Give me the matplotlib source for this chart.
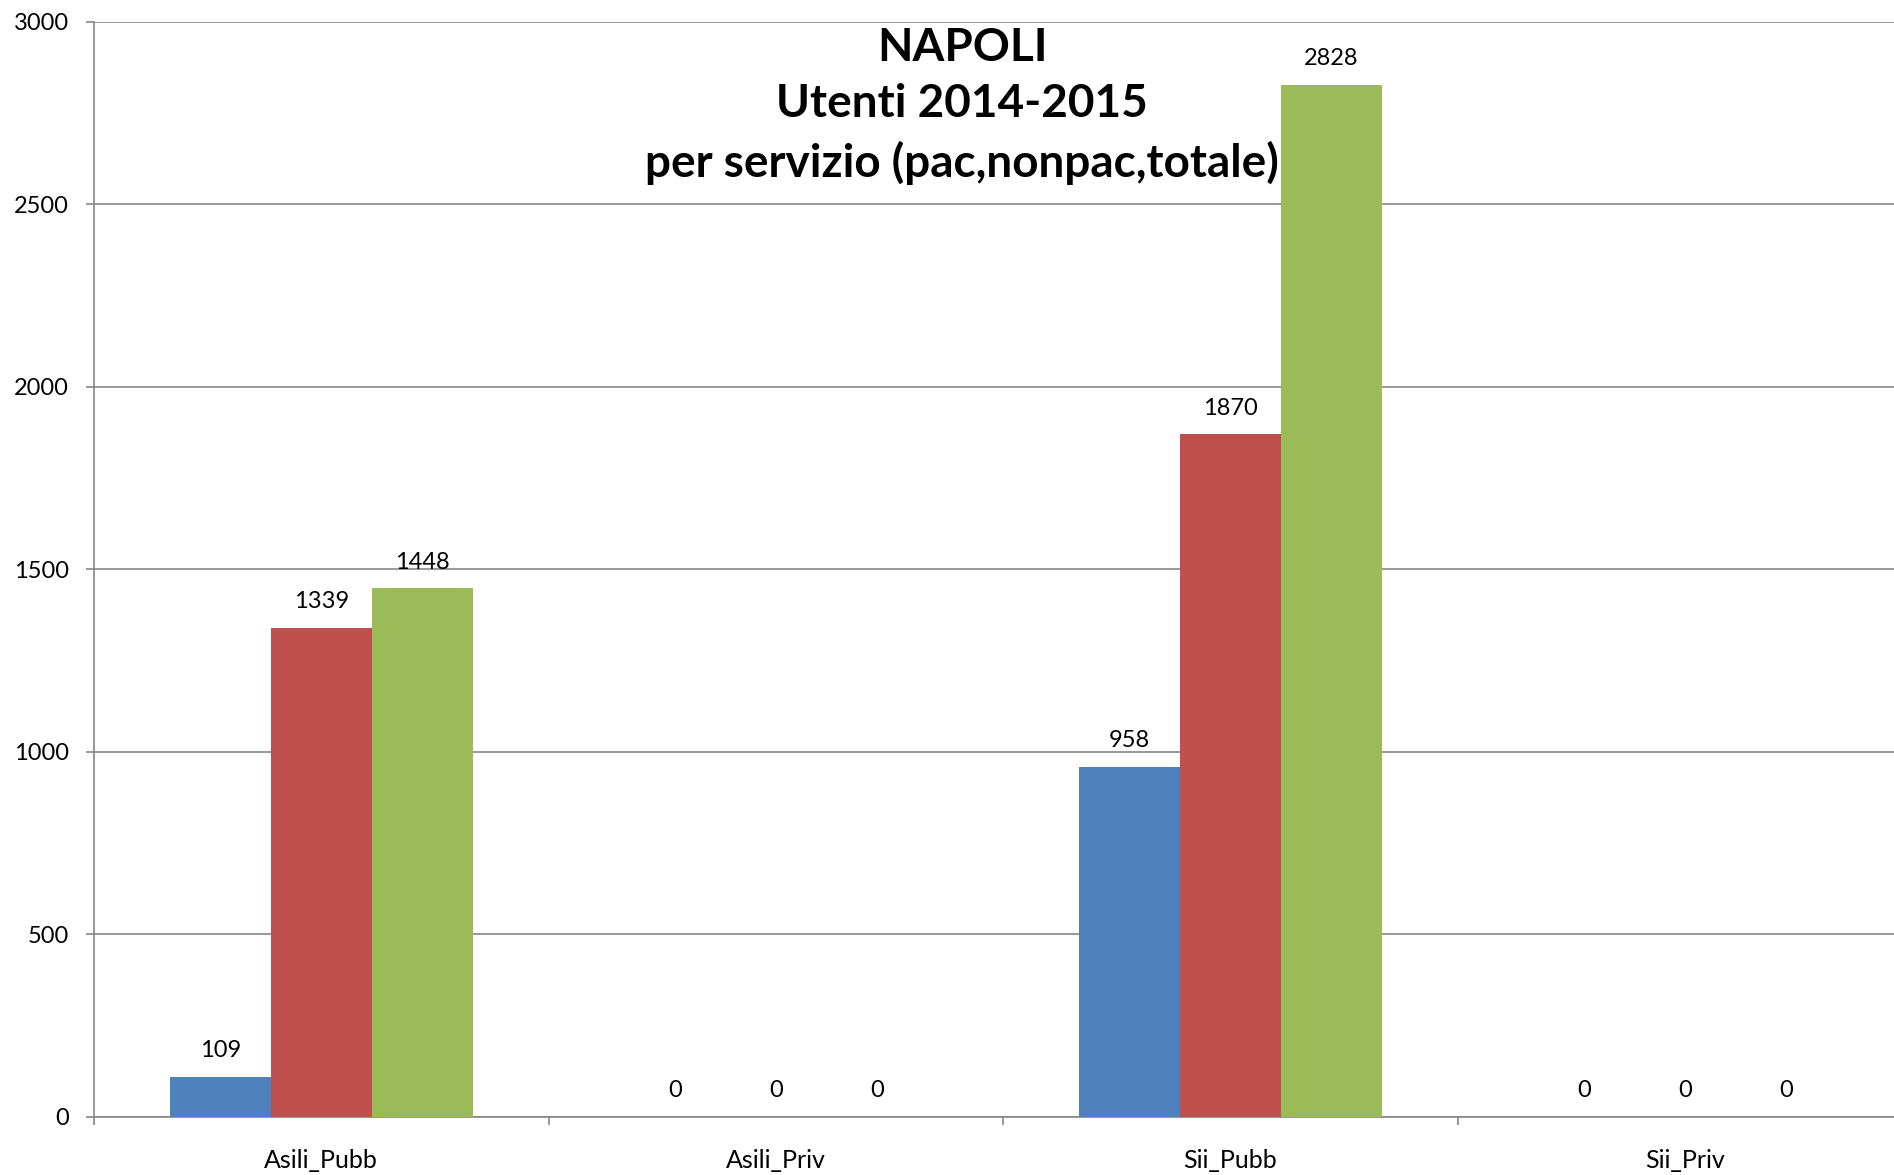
import numpy as np
import matplotlib.pyplot as plt

# data
categories = ['Asili_Pubb', 'Asili_Priv', 'Sii_Pubb', 'Sii_Priv']
pac = [109, 0, 958, 0]
nonpac = [1339, 0, 1870, 0]
totale = [1448, 0, 2828, 0]
series_colors = ['#4F81BD', '#C0504D', '#9BBB59']
title_lines = ['NAPOLI', 'Utenti 2014-2015', 'per servizio (pac,nonpac,totale)']

plt.rcParams['font.family'] = ['Lato', 'DejaVu Sans']

fig = plt.figure(figsize=(18.94, 11.75), dpi=100)
# the plot area runs past the right edge, as in the original
ax = fig.add_axes([0.0496, 0.0494, 0.960, 0.9319])

x = np.arange(len(categories))
w = 1 / 4.5  # gap width 150%

for i, (vals, col) in enumerate(zip([pac, nonpac, totale], series_colors)):
    bars = ax.bar(x + (i - 1) * w, vals, width=w, color=col, zorder=3)
    for b, v in zip(bars, vals):
        ax.annotate(str(v), (b.get_x() + b.get_width() / 2, v),
                    xytext=(0, 19), textcoords='offset points',
                    ha='center', va='center', fontsize=17)

ax.set_xlim(-0.5, len(categories) - 0.5)
ax.set_ylim(0, 3000)
ax.set_yticks(np.arange(0, 3001, 500))
ax.yaxis.grid(True, color='#868686', linewidth=1.2, zorder=0)
ax.set_axisbelow(True)

ax.set_xticks(x)
ax.set_xticklabels(categories, fontsize=18)
ax.set_xticks(np.arange(-0.5, len(categories), 1), minor=True)
ax.tick_params(axis='x', which='major', length=0, pad=23)
ax.tick_params(axis='x', which='minor', length=6, width=1.2, color='#868686')
ax.tick_params(axis='y', length=6, width=1.2, color='#868686', pad=12, labelsize=17)

for s in ['top', 'right']:
    ax.spines[s].set_visible(False)
for s in ['left', 'bottom']:
    ax.spines[s].set_color('#868686')
    ax.spines[s].set_linewidth(1.2)

fig.text(0.508, 0.910, '\n'.join(title_lines), ha='center', va='center',
         fontsize=33, fontweight='bold', linespacing=1.43)

fig.savefig('out.png', dpi=100)
